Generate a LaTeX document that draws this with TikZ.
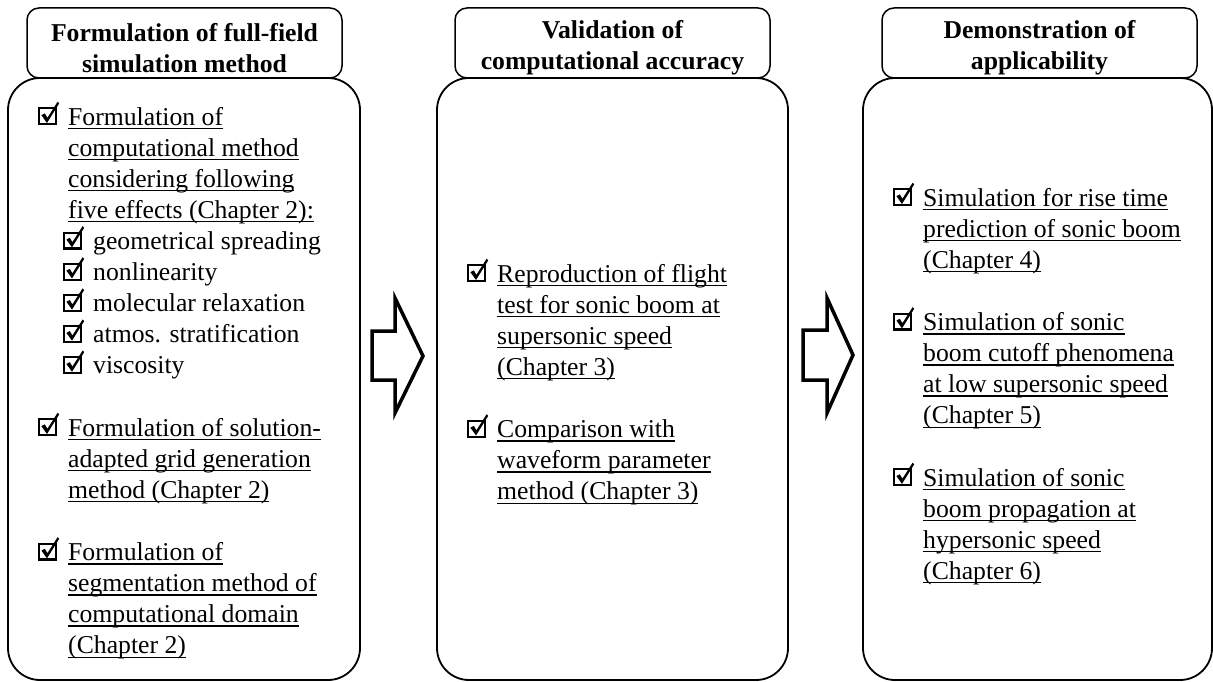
\documentclass[tikz,border=0pt]{standalone}
\usepackage{fontspec}
\setmainfont{Liberation Serif}
\newcommand\chkb{\tikz[x=1pt,y=1pt,baseline=0pt]{\useasboundingbox (0,0) rectangle (20,17);
  \draw[line width=2.1pt] (1.05,1.05) rectangle (17.9,16.9);
  \fill (3.2,10.0) -- (6.6,11.8) -- (9.2,7.4) -- (19.4,23.4) -- (21.0,21.8) -- (8.8,2.2) -- cycle;}}
\newcommand\uu[1]{\leavevmode\hbox{\setbox0\hbox{#1}\rlap{\rule[-4pt]{\wd0}{1.3pt}}\box0}}
\newcommand\ci{\makebox[30pt][l]{\chkb}}
\newcommand\ind{\hspace*{30pt}}
\newcommand\sub{\hspace*{25pt}\ci}
\tikzset{
  hbox/.style={draw, line width=1.5pt, rounded corners=12pt, minimum height=70pt, minimum width=315pt, inner sep=0pt},
  bbox/.style={draw, line width=1.8pt, rounded corners=32pt, minimum height=602pt, inner sep=0pt},
  item/.style={inner sep=0pt, align=left, font=\fontsize{25.7}{31.1}\selectfont, anchor=north west},
  head/.style={inner sep=0pt, align=center, font=\fontsize{25.7}{30.7}\selectfont\bfseries},
  barrow/.style={draw, line width=3.5pt, line join=miter, miter limit=10}
}
\begin{document}
\begin{tikzpicture}[x=1pt,y=-1pt]
\useasboundingbox (0,0) rectangle (1213,682);
% body boxes
\node[bbox, minimum width=352pt] (b1) at (184,379) {};
\node[bbox, minimum width=351pt] (b2) at (612.5,379) {};
\node[bbox, minimum width=349pt] (b3) at (1037.5,379) {};
% header boxes
\node[hbox] (h1) at (184.5,43) {};
\node[hbox] (h2) at (612.5,43) {};
\node[hbox] (h3) at (1039.5,43) {};
\node[head] (ht1) at ([yshift=-5pt]h1.center) {Formulation of full-field\\simulation method};
\node[head] (ht2) at ([yshift=-5pt]h2.center) {Validation of\\computational accuracy};
\node[head] (ht3) at ([yshift=-5pt]h3.center) {Demonstration of\\applicability};
% column 1
\node[item] (a1) at (38,103.2) {\strut\ci\uu{Formulation of}\\
 \ind\uu{computational method}\\
 \ind\uu{considering following}\\
 \ind\uu{five effects (Chapter 2):}\\
 \sub geometrical spreading\\
 \sub nonlinearity\\
 \sub molecular relaxation\\
 \sub atmos. stratification\\
 \sub viscosity};
\node[item] (a2) at (38,414.2) {\strut\ci\uu{Formulation of solution-}\\
 \ind\uu{adapted grid generation}\\
 \ind\uu{method (Chapter 2)}};
\node[item] (a3) at (38,538.6) {\strut\ci\uu{Formulation of}\\
 \ind\uu{segmentation method of}\\
 \ind\uu{computational domain}\\
 \ind\uu{(Chapter 2)}};
% column 2
\node[item] (c1) at (467,260.2) {\strut\ci\uu{Reproduction of flight}\\
 \ind\uu{test for sonic boom at}\\
 \ind\uu{supersonic speed}\\
 \ind\uu{(Chapter 3)}};
\node[item] (c2) at (467,415.7) {\strut\ci\uu{Comparison with}\\
 \ind\uu{waveform parameter}\\
 \ind\uu{method (Chapter 3)}};
% column 3
\node[item] (d1) at (893,184.2) {\strut\ci\uu{Simulation for rise time}\\
 \ind\uu{prediction of sonic boom}\\
 \ind\uu{(Chapter 4)}};
\node[item] (d2) at (893,308.6) {\strut\ci\uu{Simulation of sonic}\\
 \ind\uu{boom cutoff phenomena}\\
 \ind\uu{at low supersonic speed}\\
 \ind\uu{(Chapter 5)}};
\node[item] (d3) at (893,464.1) {\strut\ci\uu{Simulation of sonic}\\
 \ind\uu{boom propagation at}\\
 \ind\uu{hypersonic speed}\\
 \ind\uu{(Chapter 6)}};
% block arrows
\draw[barrow] (372,331) -- (395,331) -- (395,298) -- (423,356) -- (395,413) -- (395,380) -- (372,380) -- cycle;
\draw[barrow] (803,330) -- (827,330) -- (827,298) -- (853,355) -- (827,413) -- (827,380) -- (803,380) -- cycle;
\end{tikzpicture}
\end{document}
